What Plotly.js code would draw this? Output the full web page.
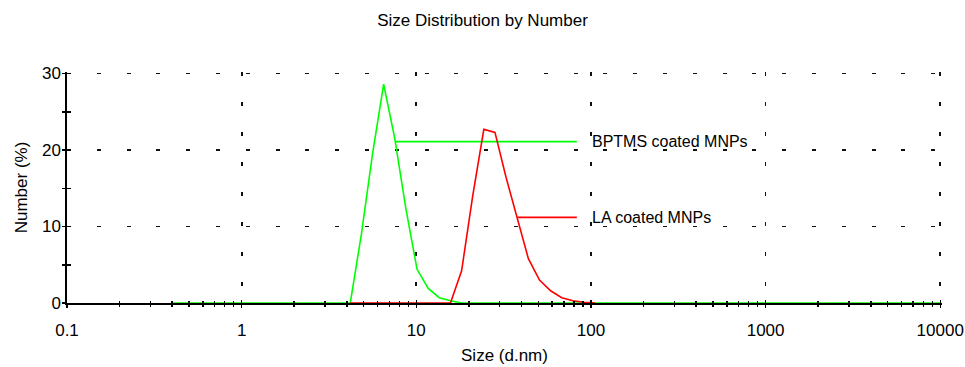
<!DOCTYPE html>
<html>
<head>
<meta charset="utf-8">
<script src="https://cdn.plot.ly/plotly-3.0.1.min.js"></script>
<style>html,body{margin:0;padding:0;background:#fff;}#chart{width:965px;height:367px;}</style>
</head>
<body>
<div id="chart"></div>
<script>
// Size bins (d.nm)
var sizeBins = [0.4, 0.4632, 0.5365, 0.6213, 0.7195, 0.8332, 0.9649, 1.117, 1.294, 1.499,
  1.736, 2.010, 2.328, 2.696, 3.122, 3.615, 4.187, 4.849, 5.615, 6.503,
  7.531, 8.721, 10.10, 11.70, 13.54, 15.69, 18.17, 21.04, 24.36, 28.21,
  32.67, 37.84, 43.82, 50.75, 58.77, 68.06, 78.82, 91.28, 105.7, 122.4,
  141.8, 164.2, 190.1, 220.2, 255.0, 295.3, 342.0, 396.1, 458.7, 531.2,
  615.1, 712.4, 825.0, 955.4, 1106, 1281, 1484, 1718, 1990, 2305,
  2669, 3091, 3580, 4145, 4801, 5560, 6439, 7456, 8635, 10000];

// BPTMS coated MNPs, Number (%) per bin
var bptmsNumber = [0, 0, 0, 0, 0, 0, 0, 0, 0, 0,
  0, 0, 0, 0, 0, 0, 0, 9.0, 19.5, 28.6,
  21.5, 12.3, 4.4, 1.9, 0.7, 0.3, 0, 0, 0, 0,
  0, 0, 0, 0, 0, 0, 0, 0, 0, 0,
  0, 0, 0, 0, 0, 0, 0, 0, 0, 0,
  0, 0, 0, 0, 0, 0, 0, 0, 0, 0,
  0, 0, 0, 0, 0, 0, 0, 0, 0, 0];

// LA coated MNPs: sizes 4.187 .. 105.7
var laSizes = sizeBins.slice(16, 39);
var laNumber = [0, 0, 0, 0, 0, 0, 0, 0, 0, 0,
  4.2, 14.0, 22.7, 22.3, 16.4, 11.2, 5.8, 3.0, 1.6, 0.7,
  0.3, 0.1, 0];

// Label connectors
var seriesNames = ["BPTMS coated MNPs", "LA coated MNPs"];
var bptmsLabelX = [7.6, 83];
var bptmsLabelY = [21.1, 21.1];
var laLabelX = [37.84, 83];
var laLabelY = [11.2, 11.2];

var titleText = "Size Distribution by Number";
var xTitle = "Size (d.nm)";
var yTitle = "Number (%)";
var xTickVals = [0.1, 1, 10, 100, 1000, 10000];
var xTickText = ["0.1", "1", "10", "100", "1000", "10000"];
var yTickVals = [0, 10, 20, 30];

var GREEN = "#00ff00", RED = "#ff0000";
var FONT = "Arial, 'Liberation Sans', sans-serif";

var traces = [
  {x: sizeBins, y: bptmsNumber, type: "scatter", mode: "lines",
   line: {color: GREEN, width: 1.6}, showlegend: false, hoverinfo: "skip"},
  {x: bptmsLabelX, y: bptmsLabelY, type: "scatter", mode: "lines",
   line: {color: GREEN, width: 1.6}, showlegend: false, hoverinfo: "skip"},
  {x: laSizes, y: laNumber, type: "scatter", mode: "lines",
   line: {color: RED, width: 1.6}, showlegend: false, hoverinfo: "skip"},
  {x: laLabelX, y: laLabelY, type: "scatter", mode: "lines",
   line: {color: RED, width: 1.6}, showlegend: false, hoverinfo: "skip"},
  {x: [], y: [], xaxis: "x2", yaxis: "y2", type: "scatter", mode: "lines",
   showlegend: false, hoverinfo: "skip"}
];

var layout = {
  width: 965, height: 367,
  margin: {l: 67.3, r: 23.3, t: 71.5, b: 64, pad: 0},
  paper_bgcolor: "#fff", plot_bgcolor: "#fff",
  font: {family: FONT, size: 17, color: "#000"},
  showlegend: false,
  title: {text: titleText, x: 0.5, xref: "container", xanchor: "center",
          y: 1 - 20 / 367, yref: "container", yanchor: "middle",
          font: {family: FONT, size: 17, color: "#000"}},
  xaxis: {type: "log", range: [-1, 4.01], autorange: false,
          tickmode: "array", tickvals: xTickVals, ticktext: xTickText,
          ticks: "outside", ticklen: 3, tickwidth: 1.5, tickcolor: "#000",
          minor: {ticks: "outside", ticklen: 2, tickwidth: 1.5, tickcolor: "#000", dtick: "D1", showgrid: false},
          showline: true, linecolor: "#000", linewidth: 1.6,
          showgrid: true, gridcolor: "#111", gridwidth: 1.7, griddash: "4px,26px",
          zeroline: false, ticklabelstandoff: 8,
          tickfont: {family: FONT, size: 17, color: "#000"},
          title: {text: xTitle, standoff: 10, font: {family: FONT, size: 17, color: "#000"}}},
  yaxis: {range: [0, 30.2], autorange: false,
          tickmode: "array", tickvals: yTickVals,
          ticks: "outside", ticklen: 3, tickwidth: 1.5, tickcolor: "#000",
          minor: {ticks: "outside", ticklen: 3, tickwidth: 1.5, tickcolor: "#000", dtick: 5, tick0: 0, showgrid: false},
          showline: true, linecolor: "#000", linewidth: 1.6,
          showgrid: true, gridcolor: "#111", gridwidth: 1.7, griddash: "4px,25.8px",
          zeroline: false, ticklabelstandoff: -2,
          tickfont: {family: FONT, size: 17, color: "#000"},
          title: {text: yTitle, standoff: 10, font: {family: FONT, size: 17, color: "#000"}}},
  xaxis2: {type: "log", range: [-1, 4.01], autorange: false, overlaying: "x", anchor: "y2",
           tickmode: "array", tickvals: xTickVals,
           ticks: "inside", ticklen: 3, tickwidth: 1.5, tickcolor: "#000",
           minor: {ticks: "inside", ticklen: 2, tickwidth: 1.5, tickcolor: "#000", dtick: "D1", showgrid: false},
           showticklabels: false, showgrid: false, showline: false, zeroline: false},
  yaxis2: {range: [0, 30.2], autorange: false, overlaying: "y", anchor: "x2",
           tickmode: "linear", tick0: 0, dtick: 5,
           ticks: "inside", ticklen: 4, tickwidth: 1.5, tickcolor: "#000",
           showticklabels: false, showgrid: false, showline: false, zeroline: false},
  annotations: [
    {x: Math.log10(bptmsLabelX[1]), y: bptmsLabelY[1], xref: "x", yref: "y",
     text: seriesNames[0], showarrow: false, xanchor: "left", yanchor: "middle",
     xshift: 13, font: {family: FONT, size: 16, color: "#000"}},
    {x: Math.log10(laLabelX[1]), y: laLabelY[1], xref: "x", yref: "y",
     text: seriesNames[1], showarrow: false, xanchor: "left", yanchor: "middle",
     xshift: 13, font: {family: FONT, size: 16, color: "#000"}}
  ]
};

Plotly.newPlot("chart", traces, layout, {displayModeBar: false, staticPlot: true});
</script>
</body>
</html>
